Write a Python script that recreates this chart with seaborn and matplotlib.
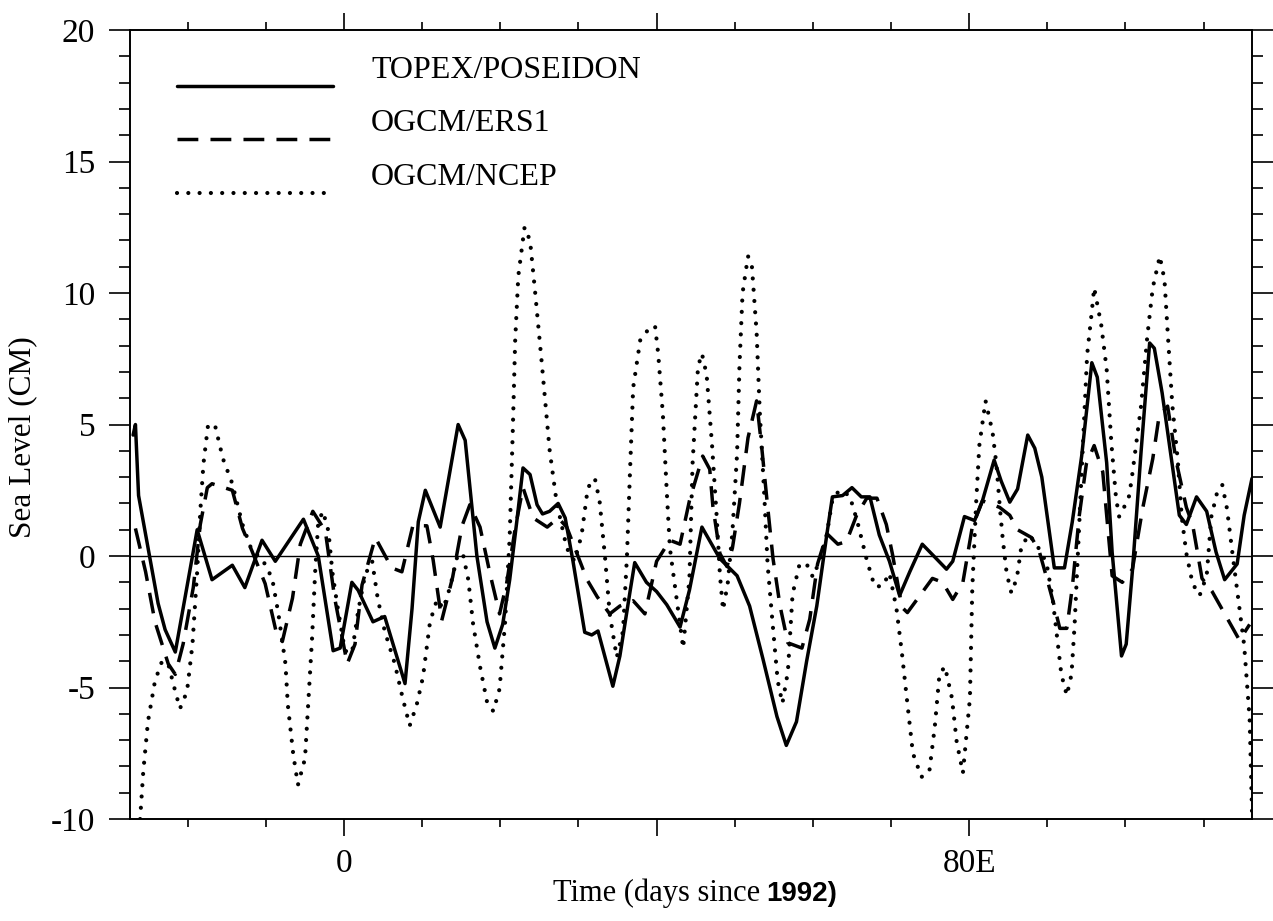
import numpy as np
import matplotlib
matplotlib.use("Agg")
import matplotlib.pyplot as plt
import matplotlib.lines as mlines
import seaborn as sns
from matplotlib.legend_handler import HandlerLine2D
from matplotlib.ticker import MultipleLocator, FixedLocator, FixedFormatter

# values (days since 1992, sea level in cm)
topex_day = [-27.0, -26.7, -26.3, -23.8, -22.9, -21.6, -18.8, -16.9, -14.3, -12.7,
             -10.5, -8.8, -5.2, -3.3, -1.4, -0.5, 1.0, 1.8, 3.7, 5.2,
             7.8, 8.7, 9.5, 10.4, 12.3, 14.6, 15.5, 17.0, 18.3, 19.3,
             20.3, 21.2, 22.1, 22.9, 23.8, 24.7, 25.4, 26.3, 27.4, 28.3,
             29.3, 30.8, 31.7, 32.5, 34.4, 35.3, 36.6, 37.2, 38.7, 40.0,
             41.3, 43.0, 44.2, 45.8, 48.1, 50.3, 51.9, 53.6, 55.4, 56.6,
             57.9, 59.2, 60.5, 61.8, 62.5, 63.8, 65.0, 66.2, 67.3, 68.5,
             69.8, 71.1, 72.4, 74.0, 75.8, 77.1, 77.9, 79.4, 80.7, 81.7,
             83.2, 84.1, 85.2, 86.2, 87.5, 88.4, 89.3, 90.9, 92.2, 93.2,
             94.4, 95.7, 96.4, 97.6, 98.3, 99.5, 100.1, 100.9, 102.0, 103.1,
             103.7, 104.7, 106.9, 107.8, 109.1, 110.4, 111.6, 112.7, 114.3, 115.2,
             116.2]
topex_cm = [4.6, 5.0, 2.3, -1.8, -2.8, -3.65, 1.0, -0.9, -0.35, -1.2,
            0.6, -0.2, 1.4, 0.0, -3.6, -3.5, -1.0, -1.3, -2.5, -2.3,
            -4.85, -2.0, 1.3, 2.5, 1.1, 5.0, 4.4, 0.0, -2.5, -3.5,
            -2.6, -0.9, 1.3, 3.35, 3.1, 1.95, 1.6, 1.7, 2.0, 1.45,
            -0.2, -2.9, -3.0, -2.85, -4.95, -3.8, -1.35, -0.25, -1.0, -1.35,
            -1.85, -2.7, -1.3, 1.1, -0.1, -0.75, -1.9, -3.9, -6.1, -7.2,
            -6.3, -4.0, -1.9, 0.85, 2.25, 2.3, 2.6, 2.25, 2.25, 0.8,
            -0.2, -1.5, -0.6, 0.45, -0.1, -0.5, -0.2, 1.5, 1.35, 2.1,
            3.65, 2.85, 2.05, 2.55, 4.6, 4.1, 3.0, -0.45, -0.45, 1.3,
            3.8, 7.35, 6.8, 3.55, 0.15, -3.8, -3.35, -0.55, 3.95, 8.1,
            7.9, 6.2, 1.55, 1.2, 2.25, 1.7, 0.15, -0.9, -0.3, 1.55,
            2.95]

ers1_day = [-26.7, -25.4, -24.2, -22.5, -21.6, -20.6, -19.3, -18.4, -17.5, -16.9,
            -14.3, -13.0, -11.8, -10.1, -8.6, -7.9, -6.6, -5.6, -4.0, -2.4,
            -1.2, 0.4, 1.4, 2.3, 4.0, 6.1, 7.4, 8.8, 10.6, 11.4,
            12.5, 13.9, 15.1, 16.1, 17.4, 18.7, 19.9, 20.8, 21.9, 22.9,
            24.2, 26.0, 27.4, 28.5, 29.8, 31.1, 32.4, 34.0, 35.3, 37.0,
            38.5, 40.0, 41.7, 43.0, 44.2, 45.9, 46.8, 47.2, 48.1, 49.0,
            49.7, 50.6, 51.7, 52.8, 53.5, 54.1, 54.9, 55.8, 56.8, 58.6,
            59.6, 60.6, 61.8, 63.2, 64.3, 65.6, 66.9, 68.2, 69.4, 70.2,
            71.4, 72.1, 73.7, 75.3, 76.6, 77.9, 79.2, 80.4, 81.7, 83.9,
            85.2, 86.2, 88.0, 89.0, 89.9, 90.9, 91.6, 92.5, 93.2, 94.1,
            95.0, 96.0, 97.1, 98.3, 99.6, 100.9, 102.2, 103.5, 104.3, 105.4,
            106.5, 107.8, 108.6, 109.8, 111.1, 112.9, 114.6, 115.9]
ers1_cm = [1.05, -0.6, -2.5, -4.1, -4.5, -3.35, -1.2, 1.2, 2.6, 2.75,
           2.5, 1.05, 0.2, -1.05, -3.0, -3.25, -1.6, 0.45, 1.7, 0.95,
           -1.6, -4.1, -3.35, -1.1, 0.7, -0.45, -0.6, 1.15, 1.15, -0.15,
           -2.45, -0.8, 1.15, 1.95, 1.1, -0.7, -2.2, -1.05, 1.05, 2.6,
           1.45, 1.1, 1.45, 1.1, 0.1, -0.9, -1.55, -2.2, -1.9, -1.7,
           -2.2, -0.2, 0.6, 0.45, 2.1, 3.8, 3.3, 1.9, 0.1, -0.4,
           0.3, 2.0, 4.5, 5.9, 4.0, 2.2, -0.1, -1.9, -3.3, -3.5,
           -2.4, -0.3, 0.85, 0.45, 0.55, 1.55, 2.2, 2.2, 1.2, 0.05,
           -1.95, -2.15, -1.5, -0.85, -1.0, -1.65, -1.0, 1.1, 2.1, 1.85,
           1.55, 1.0, 0.7, 0.15, -0.8, -1.9, -2.75, -2.75, -1.2, 1.55,
           3.5, 4.2, 3.2, -0.75, -1.0, -0.5, 1.8, 3.7, 5.3, 5.7,
           3.6, 1.85, 1.2, -0.85, -1.35, -2.3, -3.2, -2.6]

ncep_day = [-26.1, -25.7, -25.1, -24.2, -23.3, -22.5, -21.6, -21.0, -20.1, -19.4,
            -18.8, -18.4, -18.0, -17.4, -16.5, -15.5, -14.3, -13.0, -11.8, -10.5,
            -9.2, -8.4, -7.5, -7.2, -6.5, -5.9, -5.0, -4.6, -4.1, -3.7,
            -3.3, -2.7, -2.0, -1.5, -0.9, 0.1, 1.0, 1.8, 2.7, 3.6,
            4.3, 5.2, 6.5, 7.5, 8.4, 9.3, 10.1, 11.0, 11.9, 12.7,
            13.6, 14.5, 15.2, 15.9, 16.5, 17.4, 18.3, 19.1, 19.9, 20.6,
            21.2, 21.6, 21.9, 22.3, 23.1, 23.8, 24.4, 25.3, 26.3, 27.2,
            28.5, 29.5, 30.4, 31.2, 32.1, 32.7, 33.4, 34.0, 34.9, 35.7,
            36.2, 36.6, 37.0, 37.9, 38.9, 39.8, 40.2, 40.8, 41.3, 41.7,
            42.6, 43.4, 44.2, 44.6, 45.3, 45.8, 46.4, 47.1, 47.7, 48.1,
            48.5, 49.1, 49.7, 50.3, 50.6, 51.0, 51.7, 52.2, 52.8, 53.2,
            53.8, 54.2, 54.9, 55.5, 56.1, 56.8, 57.4, 58.3, 59.2, 60.0,
            60.9, 61.8, 62.5, 63.4, 64.7, 65.7, 66.9, 67.9, 68.9, 69.8,
            70.7, 71.4, 72.0, 72.8, 73.9, 74.9, 75.6, 76.2, 76.9, 77.8,
            78.4, 79.2, 80.1, 80.4, 80.9, 81.3, 82.1, 83.0, 83.5, 83.9,
            84.3, 84.8, 85.4, 86.1, 86.7, 87.7, 88.7, 89.9, 90.7, 91.3,
            91.8, 92.5, 93.1, 93.5, 93.9, 94.4, 94.8, 95.1, 95.7, 96.0,
            96.9, 97.6, 98.2, 98.8, 99.2, 99.9, 100.5, 100.9, 102.0, 102.8,
            103.5, 104.4, 105.0, 105.4, 106.0, 106.7, 107.2, 107.8, 108.6, 109.5,
            110.4, 111.0, 111.8, 112.4, 113.0, 113.7, 114.6, 115.2, 115.9, 116.2]
ncep_cm = [-10.0, -8.2, -6.3, -4.75, -4.0, -4.1, -5.15, -5.8, -5.15, -3.35,
           -0.6, 1.7, 3.5, 5.0, 4.95, 3.7, 2.75, 1.2, 0.2, -0.1,
           -0.85, -2.2, -4.1, -5.65, -7.55, -8.7, -7.7, -5.65, -3.15, -0.6,
           1.3, 1.7, 0.95, -0.6, -1.8, -3.6, -3.7, -2.1, -0.7, -0.2,
           -1.6, -2.85, -4.1, -5.4, -6.45, -5.65, -4.6, -2.5, -1.65, -2.0,
           -1.15, 0.0, 0.1, -0.9, -2.55, -4.2, -5.55, -5.9, -5.05, -2.55,
           0.75, 4.85, 8.2, 10.65, 12.5, 12.0, 10.2, 7.35, 4.05, 2.05,
           0.3, -0.2, 0.8, 2.6, 2.95, 2.1, -0.05, -2.2, -3.85, -2.85,
           -0.05, 3.25, 6.4, 8.2, 8.6, 8.75, 7.7, 5.4, 2.45, 0.3,
           -1.7, -3.5, -0.85, 3.5, 7.2, 7.7, 6.9, 4.2, 1.45, -0.7,
           -2.05, -1.05, 0.9, 3.9, 7.2, 10.0, 11.4, 11.0, 8.5, 5.5,
           2.2, -0.3, -2.75, -4.75, -5.6, -4.4, -1.45, -0.3, -0.3, -0.8,
           -0.15, 0.85, 2.15, 2.5, 2.3, 1.3, -0.15, -1.15, -1.15, -0.65,
           -2.0, -3.7, -5.35, -7.5, -8.4, -8.2, -6.5, -4.5, -4.2, -5.4,
           -7.05, -8.25, -5.4, -1.25, 2.05, 4.2, 5.9, 4.7, 3.45, 1.95,
           0.65, -0.65, -1.4, -0.85, 0.4, 0.8, 0.4, -0.25, -1.65, -3.2,
           -4.5, -5.3, -4.5, -2.6, 0.0, 3.2, 5.75, 7.65, 9.3, 10.2,
           8.8, 7.1, 4.3, 2.2, 1.5, 1.9, 2.3, 3.15, 5.7, 8.35,
           10.2, 11.4, 10.5, 8.55, 5.75, 3.65, 1.5, 0.1, -1.05, -1.5,
           -0.75, 1.5, 2.5, 2.7, 1.8, 0.1, -2.0, -3.4, -6.2, -9.7]

series_names = ["TOPEX/POSEIDON", "OGCM/ERS1", "OGCM/NCEP"]
x_tick_pos = [0, 40, 80]
x_tick_text = ["0", "", "80E"]


class LowLine(HandlerLine2D):
    # legend sample sits a little below the text baseline, as in the scan
    def create_artists(self, legend, orig_handle, xdescent, ydescent,
                       width, height, fontsize, trans):
        artists = super().create_artists(legend, orig_handle, xdescent,
                                         ydescent, width, height, fontsize,
                                         trans)
        for a in artists:
            a.set_ydata(np.asarray(a.get_ydata()) - 0.6 * fontsize)
        return artists


sns.set_style("ticks")
plt.rcParams["font.family"] = ["Liberation Serif", "DejaVu Serif"]
plt.rcParams["axes.unicode_minus"] = False
plt.rcParams["text.color"] = "black"
plt.rcParams["xtick.color"] = "black"
plt.rcParams["ytick.color"] = "black"
plt.rcParams["axes.labelcolor"] = "black"

fig = plt.figure(figsize=(12.73, 9.21), dpi=100)
ax = fig.add_axes([0.1021, 0.1107, 0.8814, 0.8567])

ax.axhline(0, color="black", lw=1.0, zorder=1)
sns.lineplot(x=topex_day, y=topex_cm, ax=ax, color="black", lw=2.5,
             label=series_names[0])
sns.lineplot(x=ers1_day, y=ers1_cm, ax=ax, color="black", lw=2.5,
             linestyle=(0, (6, 3.5)), label=series_names[1])
sns.lineplot(x=ncep_day, y=ncep_cm, ax=ax, color="black", lw=3.0,
             linestyle=(0, (0.01, 2.7)), dash_capstyle="round",
             label=series_names[2])

ax.set_xlim(-27.4, 116.2)
ax.set_ylim(-10, 20)

for side in ["left", "right", "top", "bottom"]:
    ax.spines[side].set_visible(True)
    ax.spines[side].set_linewidth(1.4)
    ax.spines[side].set_color("black")

ax.xaxis.set_major_locator(FixedLocator(x_tick_pos))
ax.xaxis.set_major_formatter(FixedFormatter(x_tick_text))
ax.xaxis.set_minor_locator(MultipleLocator(10))
ax.yaxis.set_major_locator(MultipleLocator(5))
ax.yaxis.set_minor_locator(MultipleLocator(1))

ax.tick_params(axis="both", which="both", direction="out", color="black",
               width=1.2, top=True, right=True)
ax.tick_params(axis="x", which="major", length=12, pad=9, labelsize=24)
ax.tick_params(axis="x", which="minor", length=6)
ax.tick_params(axis="y", which="major", length=15, pad=10, labelsize=24)
ax.tick_params(axis="y", which="minor", length=8)

ax.set_xlabel("")
ax.set_ylabel("")
fig.text(0.018, 0.525, "Sea Level (CM)", rotation=90, ha="center",
         va="center", fontsize=22.5)
fig.text(0.597, 0.022, "Time (days since", ha="right", va="baseline",
         fontsize=22)
fig.text(0.602, 0.022, "1992)", ha="left", va="baseline", fontsize=20,
         fontweight="bold", family=["Liberation Sans", "DejaVu Sans"])

leg = ax.legend(loc="upper left", bbox_to_anchor=(0.042, 0.968),
                frameon=False, fontsize=23, handlelength=4.87,
                handletextpad=1.2, labelspacing=0.76, borderaxespad=0,
                borderpad=0, handler_map={mlines.Line2D: LowLine()})

fig.savefig("out.png", dpi=100)
